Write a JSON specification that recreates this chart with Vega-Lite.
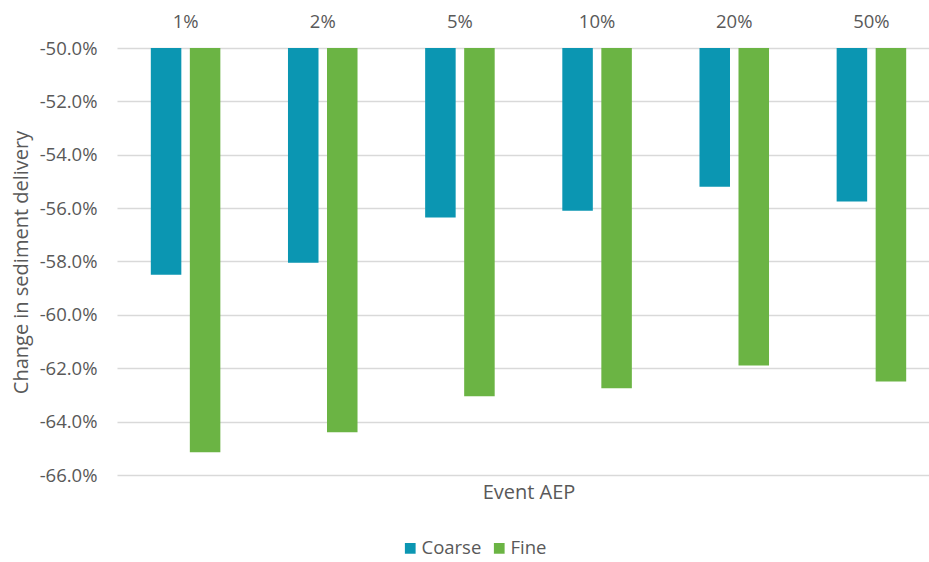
{
  "$schema": "https://vega.github.io/schema/vega-lite/v6.json",
  "width": 823,
  "height": 427,
  "autosize": {"type": "none"},
  "padding": {"left": 117, "top": 48, "right": 0, "bottom": 87},
  "background": "white",
  "config": {
    "view": {"stroke": null},
    "font": "Open Sans",
    "axis": {"labelColor": "#595959", "titleColor": "#595959", "labelFont": "Open Sans", "titleFont": "Open Sans", "titleFontWeight": "normal"},
    "legend": {"labelColor": "#595959", "labelFont": "Open Sans"}
  },
  "data": {
    "values": [
      {"aep": "1%", "type": "Coarse", "value": -0.585},
      {"aep": "1%", "type": "Fine", "value": -0.6515},
      {"aep": "2%", "type": "Coarse", "value": -0.5805},
      {"aep": "2%", "type": "Fine", "value": -0.644},
      {"aep": "5%", "type": "Coarse", "value": -0.5635},
      {"aep": "5%", "type": "Fine", "value": -0.6305},
      {"aep": "10%", "type": "Coarse", "value": -0.561},
      {"aep": "10%", "type": "Fine", "value": -0.6275},
      {"aep": "20%", "type": "Coarse", "value": -0.552},
      {"aep": "20%", "type": "Fine", "value": -0.619},
      {"aep": "50%", "type": "Coarse", "value": -0.5575},
      {"aep": "50%", "type": "Fine", "value": -0.625}
    ]
  },
  "mark": {"type": "bar"},
  "encoding": {
    "x": {
      "field": "aep",
      "type": "nominal",
      "sort": ["1%", "2%", "5%", "10%", "20%", "50%"],
      "scale": {"paddingInner": 0.493, "paddingOuter": 0.2465},
      "axis": {
        "orient": "top",
        "labelAngle": 0,
        "ticks": false,
        "domain": false,
        "labelFontSize": 18.5,
        "labelPadding": 17,
        "title": "Event AEP",
        "titleFontSize": 20,
        "titleY": 444,
        "titleBaseline": "middle"
      }
    },
    "xOffset": {
      "field": "type",
      "type": "nominal",
      "scale": {"paddingInner": 0.218, "paddingOuter": 0}
    },
    "y": {
      "field": "value",
      "type": "quantitative",
      "scale": {"domain": [-0.66, -0.5], "nice": false, "zero": false},
      "axis": {
        "values": [-0.66, -0.64, -0.62, -0.6, -0.58, -0.56, -0.54, -0.52, -0.5],
        "labelExpr": "replace(format(datum.value, '.1%'), '\u2212', '-')",
        "ticks": false,
        "domain": false,
        "labelFontSize": 18.5,
        "labelPadding": 20,
        "gridColor": "#d9d9d9",
        "gridWidth": 1.5,
        "title": "Change in sediment delivery",
        "titleFontSize": 20,
        "titleX": -96,
        "titleY": 214,
        "titleAngle": -90,
        "titleAlign": "center",
        "titleBaseline": "middle"
      }
    },
    "y2": {"datum": -0.5},
    "color": {
      "field": "type",
      "type": "nominal",
      "scale": {"domain": ["Coarse", "Fine"], "range": ["#0B96B2", "#6BB444"]},
      "legend": {
        "title": null,
        "orient": "none",
        "direction": "horizontal",
        "legendX": 284,
        "legendY": 491,
        "symbolType": "square",
        "symbolSize": 115,
        "symbolStrokeWidth": 0,
        "labelFontSize": 18.5,
        "labelOffset": 2,
        "columnPadding": 8
      }
    }
  }
}
